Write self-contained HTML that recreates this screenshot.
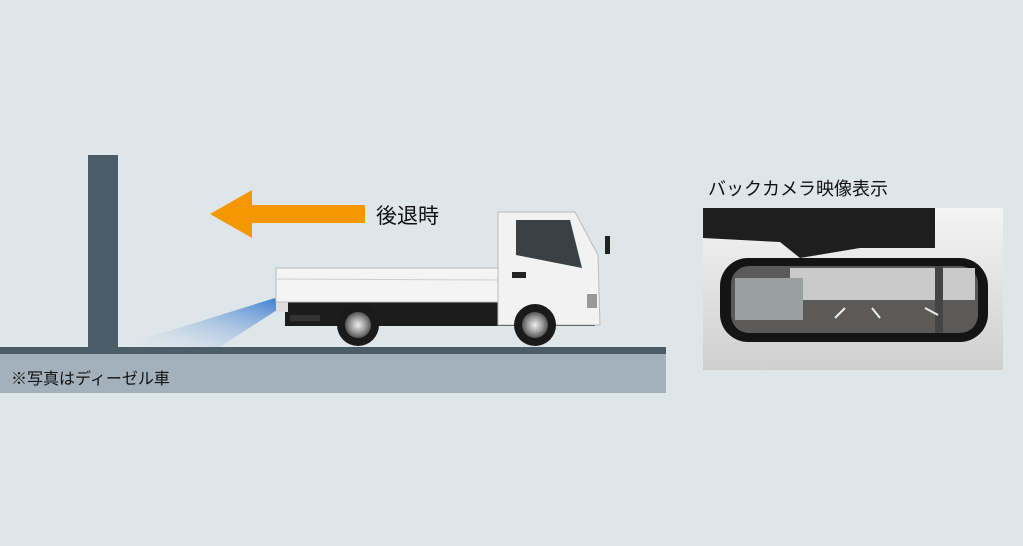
<!DOCTYPE html>
<html><head><meta charset="utf-8"><style>
body{margin:0;width:1023px;height:546px;background:#dfe6ea;overflow:hidden;position:relative;font-family:"Liberation Sans","Noto Sans CJK JP",sans-serif}
.t{position:absolute;color:#111;white-space:nowrap}
</style></head><body>
<svg width="1023" height="546" style="position:absolute;left:0;top:0">
<defs>
<linearGradient id="cone" x1="0" y1="1" x2="1" y2="0">
<stop offset="0" stop-color="#dfe6ea" stop-opacity="0"/><stop offset="1" stop-color="#3c7fd0"/></linearGradient>
<linearGradient id="ph" x1="0" y1="0" x2="0" y2="1">
<stop offset="0" stop-color="#f4f4f4"/><stop offset="1" stop-color="#cfcfcf"/></linearGradient>
<radialGradient id="wh"><stop offset="0" stop-color="#eee"/><stop offset=".6" stop-color="#999"/><stop offset="1" stop-color="#555"/></radialGradient>
</defs>
<rect x="0" y="354" width="666" height="39" fill="#a2b1bb"/>
<rect x="0" y="347" width="666" height="7" fill="#4a5d68"/>
<rect x="88" y="155" width="30" height="193" fill="#4a5d68"/>
<polygon points="118,347 275,298 277,310 220,347" fill="url(#cone)"/>
<rect x="250" y="205" width="115" height="18" fill="#f39800"/>
<polygon points="210,214 252,190 252,238" fill="#f39800"/>
<!-- truck -->
<rect x="285" y="300" width="310" height="26" fill="#1c1c1c"/>
<rect x="276" y="300" width="12" height="12" fill="#ddd"/>
<rect x="276" y="268" width="224" height="34" fill="#f4f4f4" stroke="#bbb"/>
<line x1="276" y1="279" x2="500" y2="280" stroke="#ccc"/>
<rect x="290" y="315" width="30" height="6" fill="#333"/>
<path d="M498,212 L575,212 L598,255 L600,325 L498,325 Z" fill="#f2f2f2" stroke="#bbb"/>
<path d="M516,220 L570,220 L582,268 L516,255 Z" fill="#3a4044"/>
<rect x="512" y="272" width="14" height="6" fill="#222"/>
<rect x="587" y="294" width="10" height="14" fill="#999"/>
<rect x="605" y="236" width="5" height="18" fill="#222"/>
<circle cx="358" cy="325" r="21" fill="#1a1a1a"/><circle cx="358" cy="325" r="13" fill="url(#wh)"/>
<circle cx="535" cy="325" r="21" fill="#1a1a1a"/><circle cx="535" cy="325" r="13" fill="url(#wh)"/>
<!-- photo -->
<rect x="703" y="208" width="300" height="162" fill="url(#ph)"/>
<path d="M703,208 L935,208 L935,248 L860,248 L800,258 L780,242 L703,238 Z" fill="#1e1e1e"/>
<rect x="720" y="258" width="268" height="84" rx="28" fill="#141414"/>
<rect x="731" y="266" width="247" height="67" rx="18" fill="#5b5a58"/>
<rect x="790" y="268" width="185" height="32" fill="#c9cac9"/>
<rect x="935" y="266" width="8" height="67" fill="#444"/>
<rect x="735" y="278" width="68" height="42" fill="#9aa0a0"/>
<g stroke="#eee" stroke-width="2"><line x1="835" y1="318" x2="845" y2="308"/><line x1="880" y1="318" x2="872" y2="308"/><line x1="938" y1="315" x2="925" y2="308"/></g>
</svg>
<div class="t" style="left:376px;top:200px;font-size:21px">後退時</div>
<div class="t" style="left:708px;top:175px;font-size:18px">バックカメラ映像表示</div>
<div class="t" style="left:11px;top:365px;font-size:16px">※写真はディーゼル車</div>
</body></html>
